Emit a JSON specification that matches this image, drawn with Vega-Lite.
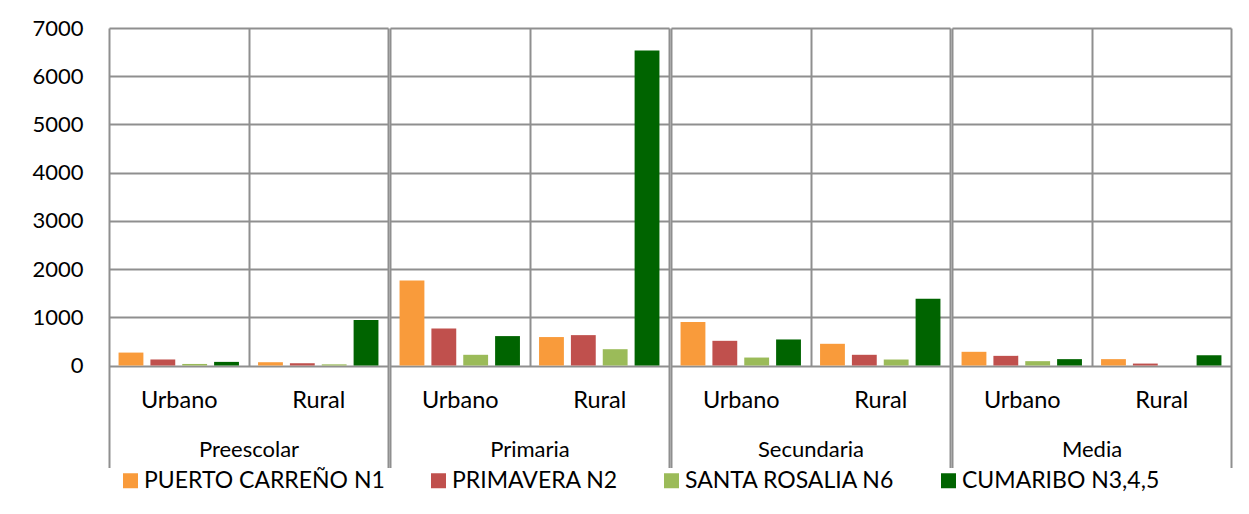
{
  "$schema": "https://vega.github.io/schema/vega-lite/v6.json",
  "padding": {"left": 31, "top": 17, "right": 5, "bottom": 5},
  "datasets": {
    "d": [
      {"nivel": "Preescolar", "zona": "Urbano", "serie": "PUERTO CARREÑO N1", "valor": 268},
      {"nivel": "Preescolar", "zona": "Urbano", "serie": "PRIMAVERA N2", "valor": 125},
      {"nivel": "Preescolar", "zona": "Urbano", "serie": "SANTA ROSALIA N6", "valor": 32},
      {"nivel": "Preescolar", "zona": "Urbano", "serie": "CUMARIBO N3,4,5", "valor": 75},
      {"nivel": "Preescolar", "zona": "Rural", "serie": "PUERTO CARREÑO N1", "valor": 68},
      {"nivel": "Preescolar", "zona": "Rural", "serie": "PRIMAVERA N2", "valor": 47},
      {"nivel": "Preescolar", "zona": "Rural", "serie": "SANTA ROSALIA N6", "valor": 24},
      {"nivel": "Preescolar", "zona": "Rural", "serie": "CUMARIBO N3,4,5", "valor": 945},
      {"nivel": "Primaria", "zona": "Urbano", "serie": "PUERTO CARREÑO N1", "valor": 1765},
      {"nivel": "Primaria", "zona": "Urbano", "serie": "PRIMAVERA N2", "valor": 768},
      {"nivel": "Primaria", "zona": "Urbano", "serie": "SANTA ROSALIA N6", "valor": 222},
      {"nivel": "Primaria", "zona": "Urbano", "serie": "CUMARIBO N3,4,5", "valor": 610},
      {"nivel": "Primaria", "zona": "Rural", "serie": "PUERTO CARREÑO N1", "valor": 590},
      {"nivel": "Primaria", "zona": "Rural", "serie": "PRIMAVERA N2", "valor": 630},
      {"nivel": "Primaria", "zona": "Rural", "serie": "SANTA ROSALIA N6", "valor": 338},
      {"nivel": "Primaria", "zona": "Rural", "serie": "CUMARIBO N3,4,5", "valor": 6535},
      {"nivel": "Secundaria", "zona": "Urbano", "serie": "PUERTO CARREÑO N1", "valor": 900},
      {"nivel": "Secundaria", "zona": "Urbano", "serie": "PRIMAVERA N2", "valor": 512},
      {"nivel": "Secundaria", "zona": "Urbano", "serie": "SANTA ROSALIA N6", "valor": 165},
      {"nivel": "Secundaria", "zona": "Urbano", "serie": "CUMARIBO N3,4,5", "valor": 540},
      {"nivel": "Secundaria", "zona": "Rural", "serie": "PUERTO CARREÑO N1", "valor": 450},
      {"nivel": "Secundaria", "zona": "Rural", "serie": "PRIMAVERA N2", "valor": 222},
      {"nivel": "Secundaria", "zona": "Rural", "serie": "SANTA ROSALIA N6", "valor": 124},
      {"nivel": "Secundaria", "zona": "Rural", "serie": "CUMARIBO N3,4,5", "valor": 1385},
      {"nivel": "Media", "zona": "Urbano", "serie": "PUERTO CARREÑO N1", "valor": 284},
      {"nivel": "Media", "zona": "Urbano", "serie": "PRIMAVERA N2", "valor": 200},
      {"nivel": "Media", "zona": "Urbano", "serie": "SANTA ROSALIA N6", "valor": 90},
      {"nivel": "Media", "zona": "Urbano", "serie": "CUMARIBO N3,4,5", "valor": 132},
      {"nivel": "Media", "zona": "Rural", "serie": "PUERTO CARREÑO N1", "valor": 132},
      {"nivel": "Media", "zona": "Rural", "serie": "PRIMAVERA N2", "valor": 40},
      {"nivel": "Media", "zona": "Rural", "serie": "SANTA ROSALIA N6", "valor": 0},
      {"nivel": "Media", "zona": "Rural", "serie": "CUMARIBO N3,4,5", "valor": 215}
    ]
  },
  "data": {"name": "d"},
  "spacing": 0,
  "hconcat": [
    {
      "width": 279, "height": 337.5,
      "transform": [{"filter": "datum.nivel === 'Preescolar'"}],
      "mark": {"type": "bar"},
      "encoding": {
        "x": {"field": "zona", "type": "nominal", "sort": ["Urbano", "Rural"], "scale": {"paddingInner": 0, "paddingOuter": 0},
          "axis": {"title": "Preescolar", "labelAngle": 0, "tickBand": "extent", "grid": true, "ticks": true, "tickSize": 102, "tickOpacity": {"condition": {"test": "datum.value === 'Urbano'", "value": 0}, "value": 1}, "labelPadding": -79, "titlePadding": -29}},
        "xOffset": {"field": "serie", "type": "nominal", "sort": ["PUERTO CARREÑO N1", "PRIMAVERA N2", "SANTA ROSALIA N6", "CUMARIBO N3,4,5"], "scale": {"paddingInner": 0.22, "paddingOuter": 0.3}},
        "y": {"field": "valor", "type": "quantitative", "scale": {"domain": [0, 7000], "nice": false},
          "axis": {"title": null, "format": "d", "values": [0, 1000, 2000, 3000, 4000, 5000, 6000, 7000], "ticks": false, "labelPadding": 26, "grid": true}},
        "color": {"field": "serie", "type": "nominal", "sort": ["PUERTO CARREÑO N1", "PRIMAVERA N2", "SANTA ROSALIA N6", "CUMARIBO N3,4,5"],
          "scale": {"domain": ["PUERTO CARREÑO N1", "PRIMAVERA N2", "SANTA ROSALIA N6", "CUMARIBO N3,4,5"], "range": ["#F99B3B", "#C0504D", "#9BBB59", "#006400"]},
          "legend": {"title": null}}
      }
    },
    {
      "width": 279, "height": 337.5,
      "transform": [{"filter": "datum.nivel === 'Primaria'"}],
      "mark": {"type": "bar"},
      "encoding": {
        "x": {"field": "zona", "type": "nominal", "sort": ["Urbano", "Rural"], "scale": {"paddingInner": 0, "paddingOuter": 0},
          "axis": {"title": "Primaria", "labelAngle": 0, "tickBand": "extent", "grid": true, "ticks": true, "tickSize": 102, "tickOpacity": {"condition": {"test": "datum.value === 'Urbano'", "value": 0}, "value": 1}, "labelPadding": -79, "titlePadding": -29}},
        "xOffset": {"field": "serie", "type": "nominal", "sort": ["PUERTO CARREÑO N1", "PRIMAVERA N2", "SANTA ROSALIA N6", "CUMARIBO N3,4,5"], "scale": {"paddingInner": 0.22, "paddingOuter": 0.3}},
        "y": {"field": "valor", "type": "quantitative", "scale": {"domain": [0, 7000], "nice": false},
          "axis": {"title": null, "values": [0, 1000, 2000, 3000, 4000, 5000, 6000, 7000], "ticks": false, "labels": false, "grid": true}},
        "color": {"field": "serie", "type": "nominal", "sort": ["PUERTO CARREÑO N1", "PRIMAVERA N2", "SANTA ROSALIA N6", "CUMARIBO N3,4,5"],
          "scale": {"domain": ["PUERTO CARREÑO N1", "PRIMAVERA N2", "SANTA ROSALIA N6", "CUMARIBO N3,4,5"], "range": ["#F99B3B", "#C0504D", "#9BBB59", "#006400"]},
          "legend": {"title": null}}
      }
    },
    {
      "width": 279, "height": 337.5,
      "transform": [{"filter": "datum.nivel === 'Secundaria'"}],
      "mark": {"type": "bar"},
      "encoding": {
        "x": {"field": "zona", "type": "nominal", "sort": ["Urbano", "Rural"], "scale": {"paddingInner": 0, "paddingOuter": 0},
          "axis": {"title": "Secundaria", "labelAngle": 0, "tickBand": "extent", "grid": true, "ticks": true, "tickSize": 102, "tickOpacity": {"condition": {"test": "datum.value === 'Urbano'", "value": 0}, "value": 1}, "labelPadding": -79, "titlePadding": -29}},
        "xOffset": {"field": "serie", "type": "nominal", "sort": ["PUERTO CARREÑO N1", "PRIMAVERA N2", "SANTA ROSALIA N6", "CUMARIBO N3,4,5"], "scale": {"paddingInner": 0.22, "paddingOuter": 0.3}},
        "y": {"field": "valor", "type": "quantitative", "scale": {"domain": [0, 7000], "nice": false},
          "axis": {"title": null, "values": [0, 1000, 2000, 3000, 4000, 5000, 6000, 7000], "ticks": false, "labels": false, "grid": true}},
        "color": {"field": "serie", "type": "nominal", "sort": ["PUERTO CARREÑO N1", "PRIMAVERA N2", "SANTA ROSALIA N6", "CUMARIBO N3,4,5"],
          "scale": {"domain": ["PUERTO CARREÑO N1", "PRIMAVERA N2", "SANTA ROSALIA N6", "CUMARIBO N3,4,5"], "range": ["#F99B3B", "#C0504D", "#9BBB59", "#006400"]},
          "legend": {"title": null}}
      }
    },
    {
      "width": 279, "height": 337.5,
      "transform": [{"filter": "datum.nivel === 'Media'"}],
      "mark": {"type": "bar"},
      "encoding": {
        "x": {"field": "zona", "type": "nominal", "sort": ["Urbano", "Rural"], "scale": {"paddingInner": 0, "paddingOuter": 0},
          "axis": {"title": "Media", "labelAngle": 0, "tickBand": "extent", "grid": true, "ticks": true, "tickSize": 102, "tickOpacity": {"condition": {"test": "datum.value === 'Urbano'", "value": 0}, "value": 1}, "labelPadding": -79, "titlePadding": -29}},
        "xOffset": {"field": "serie", "type": "nominal", "sort": ["PUERTO CARREÑO N1", "PRIMAVERA N2", "SANTA ROSALIA N6", "CUMARIBO N3,4,5"], "scale": {"paddingInner": 0.22, "paddingOuter": 0.3}},
        "y": {"field": "valor", "type": "quantitative", "scale": {"domain": [0, 7000], "nice": false},
          "axis": {"title": null, "values": [0, 1000, 2000, 3000, 4000, 5000, 6000, 7000], "ticks": false, "labels": false, "grid": true}},
        "color": {"field": "serie", "type": "nominal", "sort": ["PUERTO CARREÑO N1", "PRIMAVERA N2", "SANTA ROSALIA N6", "CUMARIBO N3,4,5"],
          "scale": {"domain": ["PUERTO CARREÑO N1", "PRIMAVERA N2", "SANTA ROSALIA N6", "CUMARIBO N3,4,5"], "range": ["#F99B3B", "#C0504D", "#9BBB59", "#006400"]},
          "legend": {"title": null}}
      }
    }
  ],
  "config": {
    "font": "Lato",
    "view": {"stroke": null},
    "axis": {"labelFont": "Lato", "labelFontSize": 22, "labelColor": "#000000", "titleFont": "Lato", "titleFontSize": 22, "titleFontWeight": "normal", "titleColor": "#000000", "gridColor": "#8f8f8f", "gridWidth": 2, "tickColor": "#8f8f8f", "tickWidth": 2, "domain": false},
    "axisX": {"labelFontSize": 23.5},
    "legend": {"orient": "none", "legendX": 10, "legendY": 441, "direction": "horizontal", "symbolType": "square", "symbolSize": 225, "symbolStrokeWidth": 0, "labelFont": "Lato", "labelFontSize": 23, "labelColor": "#000000", "labelLimit": 400, "columnPadding": 42, "labelOffset": 2, "padding": 0}
  }
}
